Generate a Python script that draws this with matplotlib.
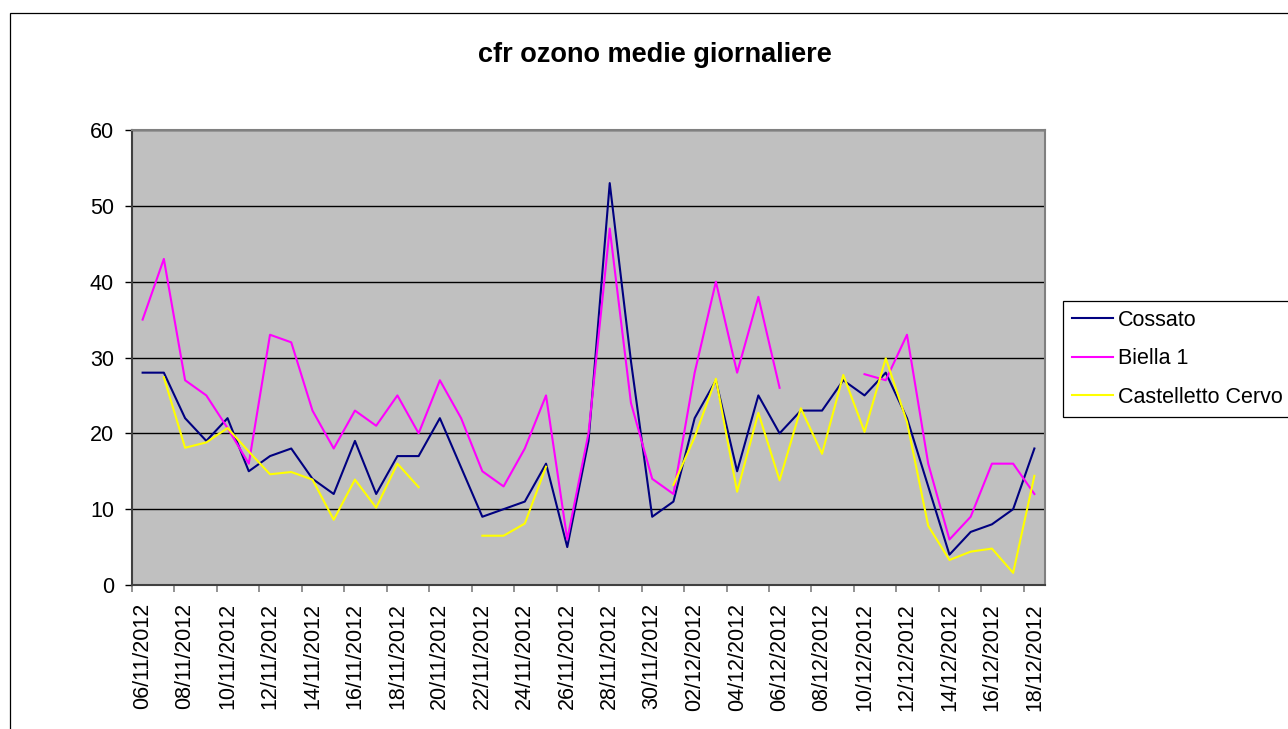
import numpy as np
import pandas as pd
import matplotlib
matplotlib.use('Agg')
import matplotlib.pyplot as plt
from matplotlib.patches import Rectangle

plt.rcParams['font.family'] = ['Liberation Sans', 'DejaVu Sans']

nan = np.nan

date = pd.date_range('2012-11-06', '2012-12-18', freq='D')
etichette = [d.strftime('%d/%m/%Y') for d in date]

cossato = [28, 28, 22, 19, 22, 15, 17, 18, 14, 12, 19, 12, 17, 17, 22, 15.5,
           9, 10, 11, 16, 5, 19, 53, 29.5, 9, 11, 22, 27, 15, 25, 20, 23,
           23, 27, 25, 28, 22, 13, 4, 7, 8, 10, 18]
biella = [35, 43, 27, 25, 20.7, 16, 33, 32, 23, 18, 23, 21, 25, 20, 27, 22,
          15, 13, 18, 25, 6, 20, 47, 24, 14, 12, 28, 40, 28, 38, 26, nan,
          nan, nan, 27.8, 27, 33, 16, 6, 9, 16, 16, 12]
castelletto = [nan, 27.4, 18.1, 18.8, 20.7, 17.6, 14.6, 14.9, 13.9, 8.6, 13.9,
               10.2, 16, 12.9, nan, nan, 6.5, 6.5, 8.1, 15.6, nan, nan, nan,
               nan, nan, 13.2, 19.5, 27.2, 12.3, 22.7, 13.8, 23.3, 17.3, 27.7,
               20.2, 29.9, 21.5, 7.8, 3.3, 4.4, 4.8, 1.6, 14.4]

fig = plt.figure(figsize=(12.88, 7.29), dpi=100)
ax = fig.add_axes([132 / 1288, 1 - 585 / 729, 913 / 1288, 455 / 729])

# cornice esterna del grafico (esce dal bordo in basso e a destra)
fig.add_artist(Rectangle((10 / 1288, -0.1), 1.2, 1 - 13 / 729 + 0.1,
                         transform=fig.transFigure, fill=False,
                         edgecolor='black', linewidth=0.9))

x = np.arange(len(date))
ax.set_facecolor('#C0C0C0')
ax.plot(x, cossato, color='#000080', lw=1.5, label='Cossato')
ax.plot(x, biella, color='#FF00FF', lw=1.5, label='Biella 1')
ax.plot(x, castelletto, color='#FFFF00', lw=1.5, label='Castelletto Cervo')

ax.set_xlim(-0.5, len(date) - 0.5)
ax.set_ylim(0, 60)
ax.set_yticks(range(0, 61, 10))
ax.yaxis.grid(True, color='black', lw=1.0)
ax.set_axisbelow(True)

ax.set_xticks(x[::2])
ax.set_xticklabels(etichette[::2], rotation=90, fontsize=15.5)
ax.set_xticks(np.arange(-0.5, len(date) - 1, 2), minor=True)
ax.tick_params(axis='x', which='major', length=0, pad=13)
ax.tick_params(axis='x', which='minor', length=5, width=1.2, color='#808080')
ax.tick_params(axis='y', length=5, width=1.0, pad=8, labelsize=15.5)

for s in ['left', 'bottom']:
    ax.spines[s].set_color('#404040')
    ax.spines[s].set_linewidth(1.5)
for s in ['top', 'right']:
    ax.spines[s].set_color('#808080')
    ax.spines[s].set_linewidth(1.5)

fig.text(655 / 1288, 1 - 55 / 729, 'cfr ozono medie giornaliere',
         ha='center', va='center', fontsize=19.5, fontweight='bold')

leg = fig.legend(loc='upper left', bbox_to_anchor=(1063 / 1288, 1 - 301 / 729),
                 bbox_transform=fig.transFigure, fontsize=15.5, frameon=True,
                 fancybox=False, edgecolor='black', framealpha=1,
                 borderpad=0.4, borderaxespad=0, handlelength=1.9,
                 handletextpad=0.25, labelspacing=0.82)
leg.get_frame().set_linewidth(0.9)

fig.savefig('out.png', dpi=100)
